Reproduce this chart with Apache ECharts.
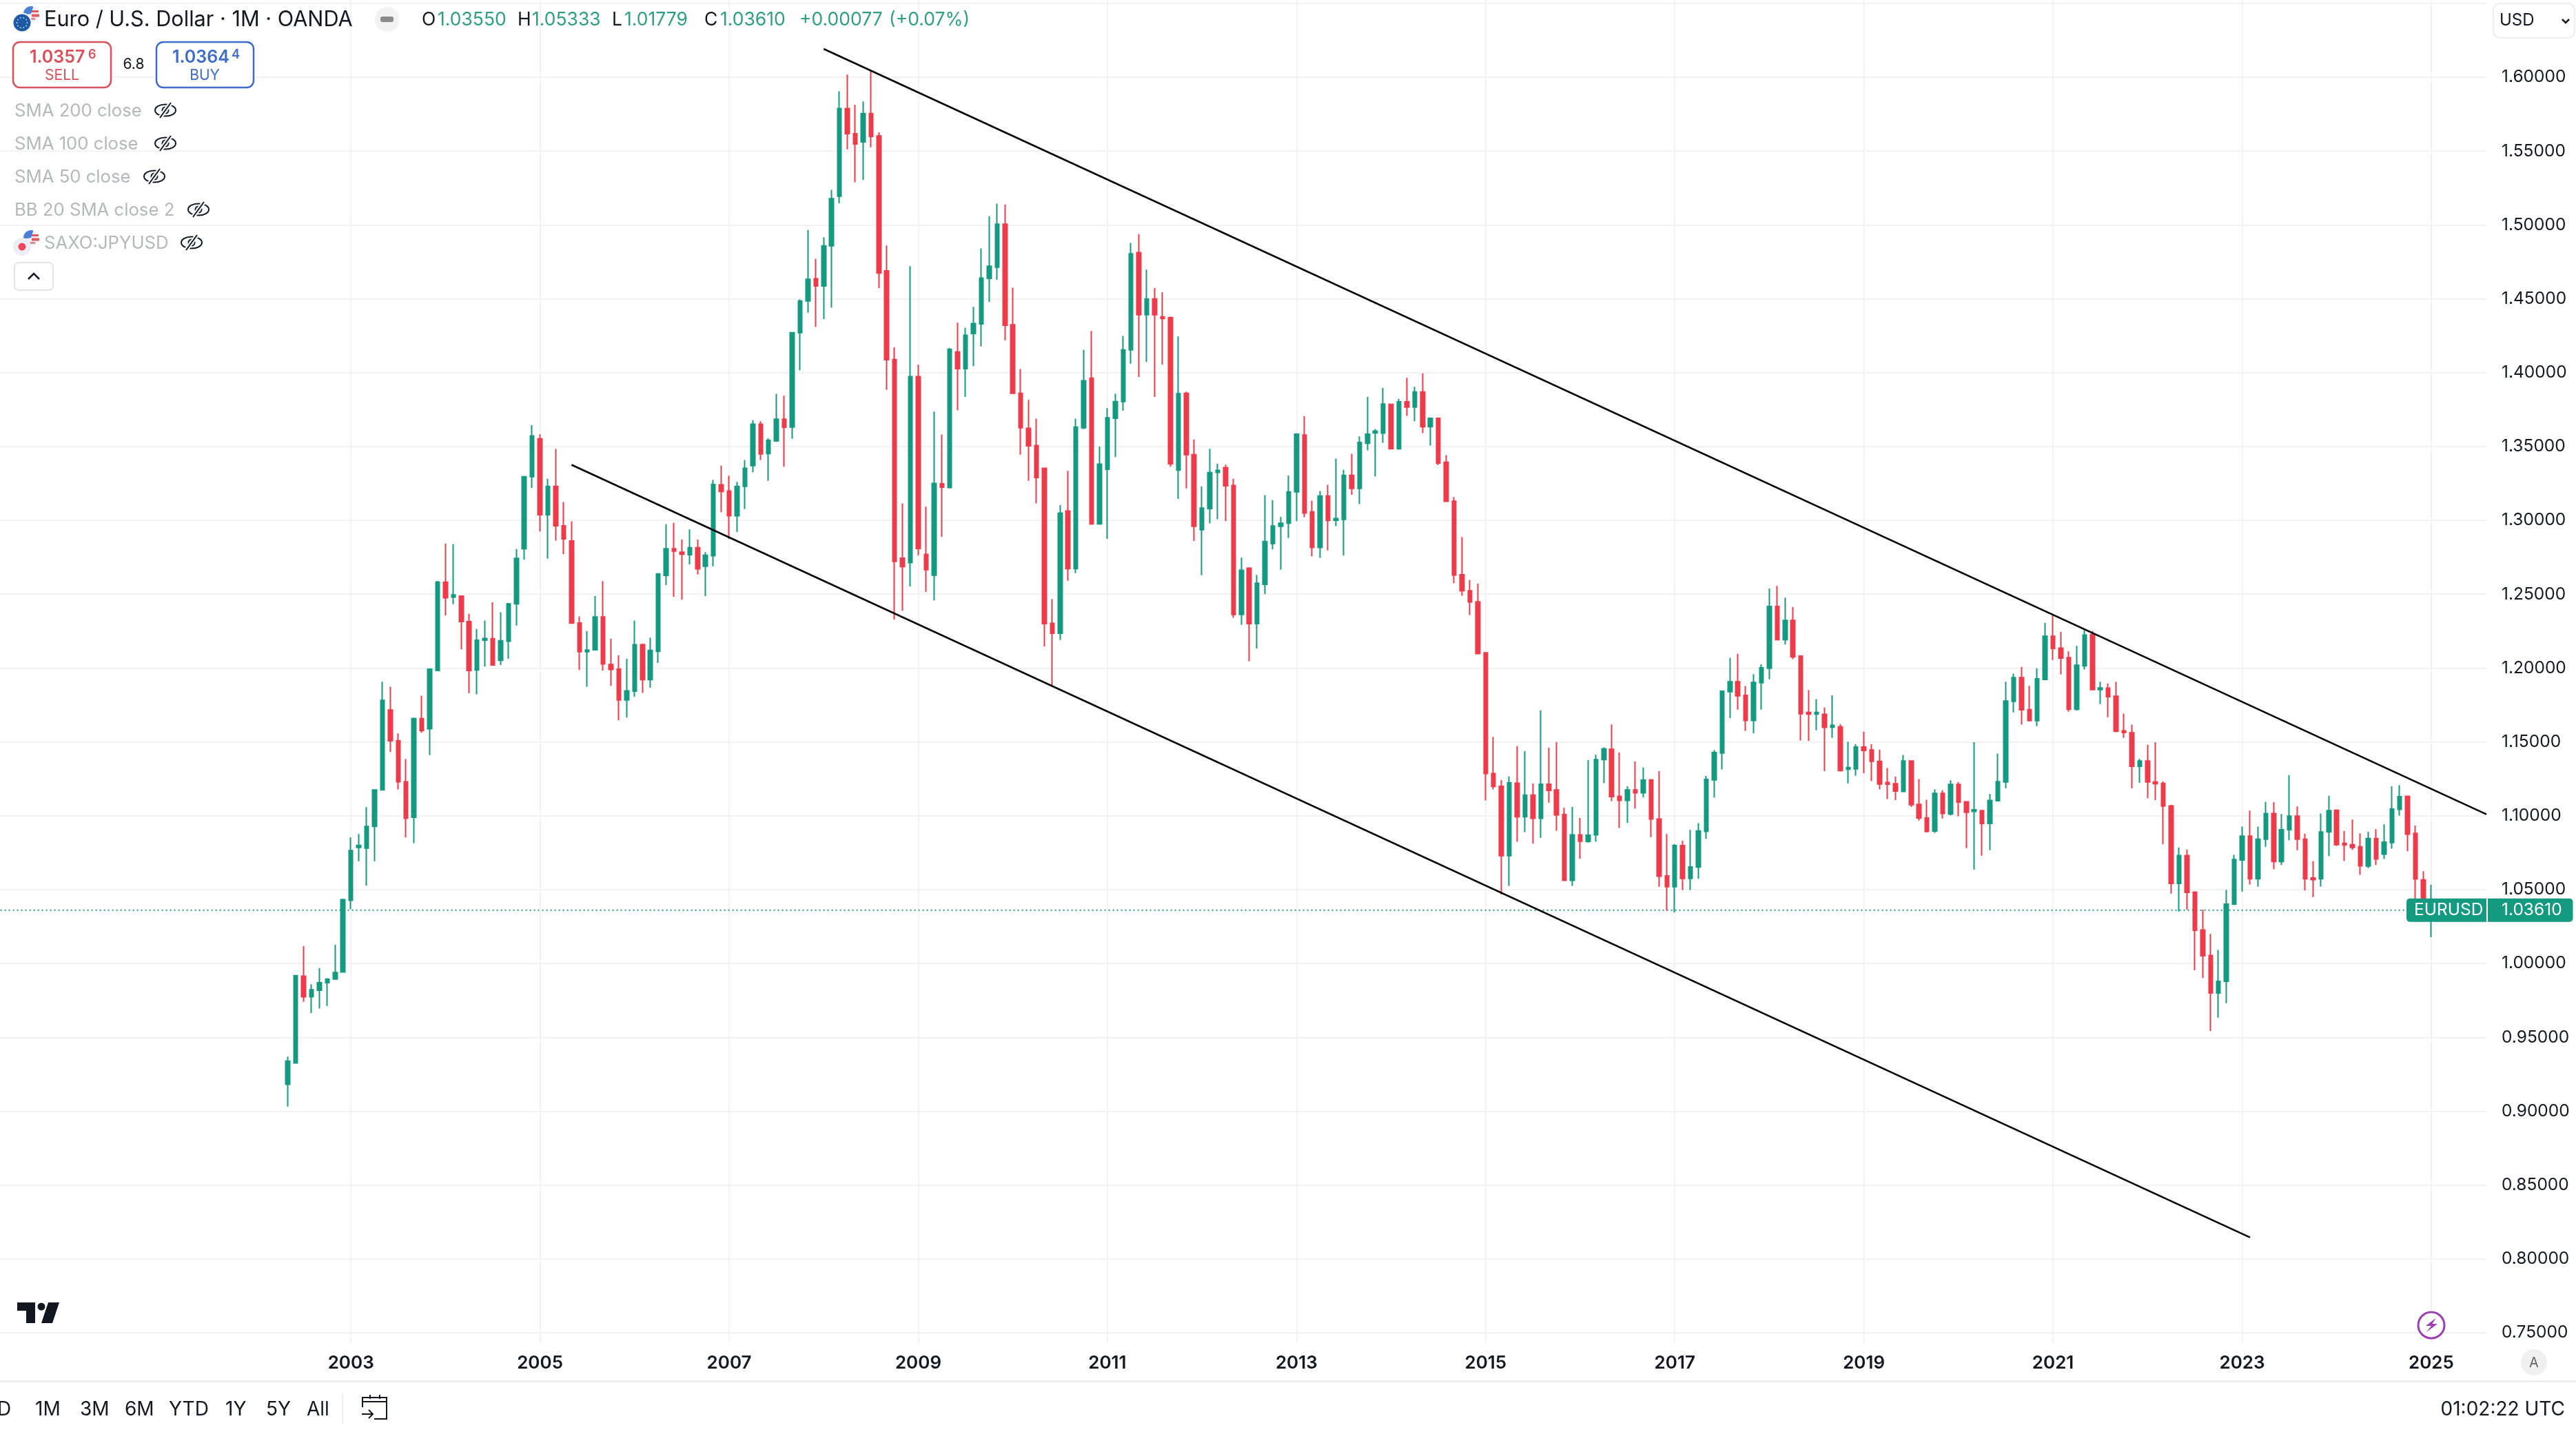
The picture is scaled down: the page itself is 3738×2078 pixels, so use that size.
<!DOCTYPE html>
<html>
<head>
<meta charset="utf-8">
<title>EURUSD 1M</title>
<script src="https://cdn.jsdelivr.net/npm/echarts@6/dist/echarts.min.js"></script>
<style>
  html, body { margin: 0; padding: 0; background: #fff; }
  #main { width: 3738px; height: 2078px; }
</style>
</head>
<body>
<div id="main"></div>
<script>
// monthly candles, each row: open, close, low, high
var candles2002 = [
  [0.9182,0.9339,0.9031,0.9370],[0.9326,0.9918,0.9326,0.9918],[0.9914,0.9774,0.9740,1.0117],[0.9774,0.9822,0.9665,0.9860],
  [0.9819,0.9870,0.9695,0.9969],[0.9870,0.9894,0.9712,0.9900],[0.9894,0.9939,0.9890,1.0127],[0.9942,1.0432,0.9942,1.0439]
];
var candles2003 = [
  [1.0428,1.0764,1.0367,1.0853],[1.0785,1.0800,1.0692,1.0877],[1.0781,1.0928,1.0528,1.1058],[1.0928,1.1175,1.0692,1.1180],
  [1.1175,1.1781,1.1175,1.1908],[1.1716,1.1507,1.1432,1.1874],[1.1507,1.1230,1.1178,1.1558],[1.1230,1.0983,1.0853,1.1384],
  [1.0990,1.1658,1.0815,1.1665],[1.1658,1.1576,1.1562,1.1812],[1.1589,1.1993,1.1411,1.1993],[1.1983,1.2582,1.1983,1.2590]
];
var candles2004 = [
  [1.2582,1.2476,1.2356,1.2843],[1.2480,1.2495,1.2432,1.2839],[1.2487,1.2315,1.2127,1.2490],[1.2315,1.1983,1.1829,1.2367],
  [1.1987,1.2189,1.1822,1.2264],[1.2189,1.2200,1.2010,1.2322],[1.2199,1.2021,1.2015,1.2445],[1.2052,1.2185,1.2021,1.2377],
  [1.2182,1.2435,1.2062,1.2440],[1.2435,1.2743,1.2288,1.2805],[1.2808,1.3295,1.2733,1.3300],[1.3295,1.3572,1.3219,1.3644]
];
var candles2005 = [
  [1.3552,1.3038,1.2925,1.3582],[1.3038,1.3230,1.2740,1.3281],[1.3230,1.2963,1.2863,1.3483],[1.2963,1.2874,1.2771,1.3124],
  [1.2860,1.2305,1.2298,1.2993],[1.2305,1.2110,1.1987,1.2350],[1.2110,1.2122,1.1874,1.2250],[1.2123,1.2346,1.2118,1.2487],
  [1.2346,1.2028,1.1983,1.2589],[1.2024,1.1990,1.1880,1.2199],[1.1993,1.1784,1.1647,1.2086],[1.1784,1.1846,1.1665,1.2062]
];
var candles2006 = [
  [1.1843,1.2158,1.1805,1.2322],[1.2158,1.1921,1.1832,1.2165],[1.1921,1.2120,1.1867,1.2206],[1.2113,1.2637,1.2034,1.2640],
  [1.2627,1.2808,1.2562,1.2973],[1.2808,1.2791,1.2483,1.2983],[1.2784,1.2771,1.2463,1.2870],[1.2767,1.2815,1.2702,1.2939],
  [1.2815,1.2671,1.2634,1.2870],[1.2689,1.2764,1.2487,1.2784],[1.2760,1.3243,1.2689,1.3274],[1.3240,1.3195,1.3055,1.3370]
];
var candles2007 = [
  [1.3199,1.3031,1.2874,1.3302],[1.3031,1.3230,1.2921,1.3260],[1.3230,1.3353,1.3076,1.3408],[1.3370,1.3651,1.3326,1.3678],
  [1.3651,1.3449,1.3408,1.3671],[1.3452,1.3541,1.3267,1.3555],[1.3538,1.3685,1.3531,1.3856],[1.3685,1.3630,1.3363,1.3843],
  [1.3631,1.4270,1.3552,1.4275],[1.4270,1.4485,1.4016,1.4496],[1.4485,1.4632,1.4406,1.4966],[1.4635,1.4587,1.4310,1.4771]
];
var candles2008 = [
  [1.4587,1.4858,1.4363,1.4917],[1.4858,1.5178,1.4440,1.5237],[1.5194,1.5788,1.5146,1.5904],[1.5788,1.5618,1.5511,1.6017],
  [1.5618,1.5548,1.5288,1.5813],[1.5562,1.5754,1.5305,1.5836],[1.5754,1.5599,1.5525,1.6045],[1.5602,1.4674,1.4573,1.5627],
  [1.4689,1.4087,1.3883,1.4861],[1.4089,1.2721,1.2328,1.4171],[1.2744,1.2687,1.2388,1.3114],[1.2713,1.3973,1.2552,1.4720]
];
var candles2009 = [
  [1.3973,1.2809,1.2764,1.4053],[1.2769,1.2665,1.2515,1.3092],[1.2628,1.3250,1.2458,1.3736],[1.3247,1.3224,1.2888,1.3581],
  [1.3222,1.4157,1.3216,1.4168],[1.4140,1.4027,1.3745,1.4338],[1.4027,1.4253,1.3835,1.4304],[1.4265,1.4332,1.4044,1.4445],
  [1.4330,1.4640,1.4177,1.4841],[1.4638,1.4720,1.4479,1.5059],[1.4714,1.5005,1.4629,1.5144],[1.5005,1.4321,1.4219,1.5138]
];
var candles2010 = [
  [1.4324,1.3860,1.3855,1.4575],[1.3860,1.3626,1.3445,1.4024],[1.3623,1.3504,1.3267,1.3815],[1.3507,1.3289,1.3114,1.3688],
  [1.3352,1.2300,1.2147,1.3357],[1.2303,1.2235,1.1873,1.2467],[1.2235,1.3049,1.2190,1.3103],[1.3063,1.2673,1.2591,1.3335],
  [1.2673,1.3631,1.2642,1.3688],[1.3626,1.3945,1.3617,1.4154],[1.3962,1.2976,1.2970,1.4282],[1.2976,1.3380,1.2970,1.3499]
];
var candles2011 = [
  [1.3346,1.3694,1.2874,1.3759],[1.3691,1.3804,1.3428,1.3858],[1.3804,1.4154,1.3742,1.4248],[1.4154,1.4804,1.4061,1.4878],
  [1.4813,1.4392,1.3971,1.4937],[1.4392,1.4499,1.4072,1.4697],[1.4499,1.4392,1.3835,1.4573],[1.4378,1.4366,1.4055,1.4544],
  [1.4372,1.3383,1.3363,1.4380],[1.3340,1.3858,1.3145,1.4245],[1.3860,1.3445,1.3216,1.3872],[1.3445,1.2959,1.2860,1.3547]
];
var candles2012 = [
  [1.2936,1.3083,1.2628,1.3230],[1.3080,1.3323,1.2979,1.3484],[1.3325,1.3338,1.3007,1.3383],[1.3357,1.3233,1.2995,1.3377],
  [1.3236,1.2362,1.2340,1.3281],[1.2362,1.2662,1.2292,1.2747],[1.2676,1.2300,1.2046,1.2682],[1.2300,1.2574,1.2133,1.2631],
  [1.2566,1.2857,1.2501,1.3171],[1.2843,1.2962,1.2803,1.3137],[1.2959,1.2981,1.2665,1.3024],[1.2981,1.3193,1.2880,1.3304]
];
var candles2013 = [
  [1.3193,1.3583,1.2995,1.3589],[1.3578,1.3049,1.3021,1.3705],[1.3057,1.2816,1.2756,1.3133],[1.2816,1.3165,1.2746,1.3198],
  [1.3165,1.2999,1.2796,1.3241],[1.3000,1.3012,1.2961,1.3418],[1.3006,1.3305,1.2761,1.3342],[1.3305,1.3216,1.3173,1.3451],
  [1.3216,1.3527,1.3110,1.3568],[1.3522,1.3583,1.3474,1.3836],[1.3592,1.3604,1.3297,1.3618],[1.3590,1.3788,1.3525,1.3896]
];
var candles2014 = [
  [1.3785,1.3484,1.3480,1.3790],[1.3484,1.3803,1.3479,1.3823],[1.3803,1.3767,1.3707,1.3965],[1.3767,1.3869,1.3671,1.3904],
  [1.3869,1.3633,1.3590,1.3995],[1.3633,1.3691,1.3507,1.3696],[1.3691,1.3388,1.3373,1.3696],[1.3393,1.3128,1.3125,1.3441],
  [1.3130,1.2629,1.2574,1.3158],[1.2632,1.2523,1.2490,1.2887],[1.2523,1.2447,1.2359,1.2596],[1.2449,1.2098,1.2095,1.2571]
];
var candles2015 = [
  [1.2103,1.1286,1.1104,1.2105],[1.1286,1.1198,1.1178,1.1534],[1.1200,1.0730,1.0467,1.1241],[1.0730,1.1223,1.0525,1.1266],
  [1.1220,1.0993,1.0824,1.1471],[1.0993,1.1140,1.0889,1.1438],[1.1140,1.0983,1.0811,1.1218],[1.0983,1.1213,1.0851,1.1714],
  [1.1213,1.1172,1.1089,1.1461],[1.1175,1.1006,1.0899,1.1499],[1.1008,1.0563,1.0560,1.1054],[1.0563,1.0871,1.0525,1.1059]
];
var candles2016 = [
  [1.0871,1.0828,1.0710,1.0985],[1.0826,1.0868,1.0818,1.1377],[1.0871,1.1380,1.0824,1.1413],[1.1380,1.1453,1.1220,1.1463],
  [1.1450,1.1130,1.1099,1.1618],[1.1132,1.1104,1.0917,1.1428],[1.1104,1.1175,1.0952,1.1200],[1.1175,1.1155,1.1049,1.1367],
  [1.1155,1.1241,1.1124,1.1327],[1.1243,1.0978,1.0856,1.1248],[1.0978,1.0591,1.0520,1.1302],[1.0593,1.0520,1.0358,1.0877]
];
var candles2017 = [
  [1.0520,1.0798,1.0346,1.0808],[1.0798,1.0576,1.0497,1.0831],[1.0576,1.0654,1.0497,1.0904],[1.0652,1.0897,1.0573,1.0950],
  [1.0894,1.1246,1.0844,1.1269],[1.1243,1.1428,1.1122,1.1446],[1.1425,1.1843,1.1314,1.1848],[1.1840,1.1908,1.1661,1.2070],
  [1.1908,1.1812,1.1719,1.2096],[1.1815,1.1645,1.1575,1.1878],[1.1645,1.1903,1.1557,1.1959],[1.1901,1.2002,1.1719,1.2025]
];
var candles2018 = [
  [1.1999,1.2417,1.1924,1.2538],[1.2417,1.2192,1.2188,1.2556],[1.2192,1.2323,1.2159,1.2477],[1.2323,1.2075,1.2060,1.2412],
  [1.2081,1.1690,1.1510,1.2085],[1.1700,1.1688,1.1506,1.1850],[1.1688,1.1700,1.1579,1.1790],[1.1687,1.1598,1.1302,1.1733],
  [1.1600,1.1612,1.1527,1.1815],[1.1602,1.1306,1.1300,1.1619],[1.1315,1.1327,1.1219,1.1500],[1.1317,1.1465,1.1271,1.1485]
];
var candles2019 = [
  [1.1465,1.1442,1.1288,1.1569],[1.1446,1.1369,1.1235,1.1485],[1.1369,1.1215,1.1179,1.1448],[1.1225,1.1213,1.1113,1.1323],
  [1.1217,1.1167,1.1106,1.1265],[1.1165,1.1371,1.1162,1.1412],[1.1371,1.1075,1.1060,1.1375],[1.1077,1.0985,1.0967,1.1248],
  [1.0985,1.0894,1.0887,1.1108],[1.0896,1.1152,1.0883,1.1179],[1.1152,1.1015,1.0981,1.1173],[1.1012,1.1212,1.1002,1.1240]
];
var candles2020 = [
  [1.1212,1.1092,1.0996,1.1227],[1.1094,1.1023,1.0781,1.1098],[1.1029,1.1041,1.0635,1.1498],[1.1035,1.0948,1.0729,1.1040],
  [1.0948,1.1104,1.0767,1.1148],[1.1102,1.1231,1.1098,1.1421],[1.1229,1.1777,1.1185,1.1908],[1.1775,1.1935,1.1700,1.1962],
  [1.1935,1.1717,1.1617,1.2008],[1.1719,1.1644,1.1640,1.1879],[1.1644,1.1927,1.1606,1.1998],[1.1923,1.2215,1.1920,1.2306]
];
var candles2021 = [
  [1.2215,1.2133,1.2054,1.2356],[1.2135,1.2067,1.1956,1.2244],[1.2071,1.1721,1.1704,1.2113],[1.1721,1.2019,1.1713,1.2150],
  [1.2015,1.2223,1.1990,1.2267],[1.2227,1.1854,1.1850,1.2250],[1.1854,1.1866,1.1756,1.1908],[1.1864,1.1806,1.1667,1.1896],
  [1.1810,1.1573,1.1565,1.1906],[1.1575,1.1563,1.1527,1.1692],[1.1562,1.1335,1.1185,1.1617],[1.1335,1.1371,1.1223,1.1385]
];
var candles2022 = [
  [1.1371,1.1229,1.1119,1.1481],[1.1229,1.1217,1.1106,1.1498],[1.1219,1.1065,1.0808,1.1233],[1.1067,1.0542,1.0473,1.1075],
  [1.0542,1.0731,1.0352,1.0785],[1.0731,1.0481,1.0365,1.0771],[1.0483,1.0225,0.9954,1.0487],[1.0227,1.0052,0.9902,1.0365],
  [1.0054,0.9800,0.9542,1.0200],[0.9800,0.9879,0.9633,1.0092],[0.9879,1.0402,0.9731,1.0498],[1.0402,1.0704,1.0396,1.0735]
];
var candles2023 = [
  [1.0700,1.0863,1.0487,1.0927],[1.0863,1.0573,1.0535,1.1035],[1.0573,1.0842,1.0521,1.0927],[1.0842,1.1015,1.0790,1.1094],
  [1.1015,1.0690,1.0638,1.1092],[1.0690,1.0906,1.0667,1.1012],[1.0906,1.0998,1.0835,1.1275],[1.0998,1.0842,1.0767,1.1063],
  [1.0842,1.0573,1.0494,1.0879],[1.0579,1.0567,1.0450,1.0692],[1.0573,1.0890,1.0521,1.1015],[1.0890,1.1035,1.0727,1.1135]
];
var candles2024 = [
  [1.1037,1.0804,1.0796,1.1040],[1.0814,1.0802,1.0693,1.0897],[1.0804,1.0785,1.0769,1.0975],[1.0790,1.0661,1.0600,1.0881],
  [1.0659,1.0846,1.0645,1.0892],[1.0846,1.0707,1.0667,1.0909],[1.0740,1.0822,1.0707,1.0942],[1.0818,1.1046,1.0777,1.1200],
  [1.1043,1.1130,1.1001,1.1208],[1.1132,1.0875,1.0760,1.1135],[1.0881,1.0572,1.0332,1.0934],[1.0566,1.0355,1.0344,1.0625]
];
var candles2025 = [
  [1.03550,1.03610,1.01779,1.05333]
];
var firstCandleMonth = [2002, 5];

var yTicks = [0.75,0.80,0.85,0.90,0.95,1.00,1.05,1.10,1.15,1.20,1.25,1.30,1.35,1.40,1.45,1.50,1.55,1.60,1.65];
var yLabels = [0.75,0.80,0.85,0.90,0.95,1.00,1.05,1.10,1.15,1.20,1.25,1.30,1.35,1.40,1.45,1.50,1.55,1.60];
var yearTicks = ['2003','2005','2007','2009','2011','2013','2015','2017','2019','2021','2023','2025'];
var lastClose = 1.03610;

// channel lines: [month, price]
var channelUpper = [['2008-01', 1.61913], ['2025-08', 1.10095]];
var channelLower = [['2005-05', 1.33758], ['2023-02', 0.81451]];

var UP = '#149a81', DOWN = '#ee3b4a', GRID = '#f1f2f4', INK = '#131722', FONT = 'Inter';

// axis months, some empty ones left and right of the candles
var months = [];
for (var m = 0; m < 317; m++) {
  var total = 1999 * 12 + 3 + m;
  var mm = total % 12 + 1;
  months.push(Math.floor(total / 12) + '-' + (mm < 10 ? '0' + mm : mm));
}

var allCandles = [].concat(candles2002, candles2003, candles2004, candles2005, candles2006, candles2007,
  candles2008, candles2009, candles2010, candles2011, candles2012, candles2013, candles2014, candles2015,
  candles2016, candles2017, candles2018, candles2019, candles2020, candles2021, candles2022, candles2023,
  candles2024, candles2025);

var startIdx = months.indexOf(firstCandleMonth[0] + '-0' + firstCandleMonth[1]);
var candleData = allCandles.map(function (c, i) {
  return [months[startIdx + i], c[0], c[1], c[2], c[3]];
});

function isYearTick(i, v) {
  return v.slice(5) === '01' && yearTicks.indexOf(v.slice(0, 4)) >= 0;
}

var chart = echarts.init(document.getElementById('main'), null, { renderer: 'canvas' });

chart.setOption({
  animation: false,
  backgroundColor: '#fff',
  grid: { left: -5.4, top: 0, width: 3613.4, height: 1948, containLabel: false, outerBoundsMode: 'none' },
  xAxis: {
    type: 'category',
    data: months,
    boundaryGap: false,
    axisLine: { show: false },
    axisTick: { show: false },
    splitLine: { show: true, interval: isYearTick, lineStyle: { color: GRID, width: 2 } },
    axisLabel: {
      interval: isYearTick,
      formatter: function (v) { return v.slice(0, 4); },
      margin: 17,
      color: INK,
      fontFamily: FONT,
      fontSize: 26,
      fontWeight: 600
    }
  },
  yAxis: {
    type: 'value',
    position: 'right',
    min: 0.74347,
    max: 1.65225,
    axisLine: { show: false },
    axisTick: { show: false, customValues: yTicks },
    splitLine: { show: true, lineStyle: { color: GRID, width: 2 } },
    axisLabel: {
      customValues: yLabels,
      formatter: function (v) { return v.toFixed(5); },
      margin: 22,
      color: INK,
      fontFamily: FONT,
      fontSize: 24.5
    }
  },
  series: [
    {
      // dotted last price line, under the candles
      type: 'line', showSymbol: false, silent: true, z: 1,
      data: [[months[0], lastClose], [months[months.length - 1], lastClose]],
      lineStyle: { color: UP, type: [2, 4], width: 2 }
    },
    {
      type: 'candlestick',
      data: candleData,
      encode: { x: 0, y: [1, 2, 3, 4] },
      barWidth: 6,
      z: 2,
      itemStyle: { color: UP, color0: DOWN, borderColor: UP, borderColor0: DOWN, borderWidth: 2 }
    },
    {
      type: 'line', data: channelUpper, showSymbol: false, silent: true, z: 5,
      lineStyle: { color: '#000', width: 2.5 }
    },
    {
      type: 'line', data: channelLower, showSymbol: false, silent: true, z: 5,
      lineStyle: { color: '#000', width: 2.5 }
    }
  ]
});

// page furniture around the plot
function txt(x, y, text, size, color, weight, align) {
  return {
    type: 'text', x: x, y: y, z: 100,
    style: {
      text: text, fill: color,
      font: (weight || 400) + ' ' + size + 'px ' + FONT,
      textAlign: align || 'left', textVerticalAlign: 'middle'
    }
  };
}
function box(x, y, w, h, r, fill, stroke, lw) {
  return {
    type: 'rect', z: 99, shape: { x: x, y: y, width: w, height: h, r: r },
    style: { fill: fill || 'none', stroke: stroke || 'none', lineWidth: lw || 0 }
  };
}
function line(pts, color, w) {
  return { type: 'polyline', z: 100, shape: { points: pts }, style: { fill: 'none', stroke: color, lineWidth: w } };
}
function eyeOff(cx, cy) {
  return [
    { type: 'ellipse', z: 100, shape: { cx: cx, cy: cy, rx: 15, ry: 8.5 }, style: { fill: 'none', stroke: INK, lineWidth: 2 } },
    { type: 'circle', z: 100, shape: { cx: cx, cy: cy, r: 4.5 }, style: { fill: 'none', stroke: INK, lineWidth: 2 } },
    line([[cx - 8, cy + 11], [cx + 8, cy - 11]], '#fff', 6),
    line([[cx - 8, cy + 11], [cx + 8, cy - 11]], INK, 2)
  ];
}
function usFlag(cx, cy) {
  return [
    { type: 'circle', z: 99, shape: { cx: cx, cy: cy, r: 11 }, style: { fill: '#eef0f6' } },
    { type: 'sector', z: 100, shape: { cx: cx, cy: cy, r: 11, r0: 0, startAngle: Math.PI * 0.95, endAngle: Math.PI * 1.6 }, style: { fill: '#4a7fd6' } },
    box(cx + 1, cy - 5, 10, 3, 0, '#e4575f'),
    box(cx + 1, cy + 0.5, 11, 4, 0, '#e4575f'),
    box(cx - 2, cy + 6, 8, 3, 0, '#d98d8f')
  ];
}

var yLast = chart.convertToPixel({ yAxisIndex: 0 }, lastClose);
var g = [];

// symbol icon
g = g.concat(usFlag(45, 20));
g.push({ type: 'circle', z: 100, shape: { cx: 32, cy: 33, r: 14.5 }, style: { fill: '#fff' } });
g.push({ type: 'circle', z: 100, shape: { cx: 32, cy: 33, r: 12.5 }, style: { fill: '#1c5aa5' } });
for (var s = 0; s < 10; s++) {
  g.push({
    type: 'circle', z: 101,
    shape: { cx: 32 + 7.5 * Math.cos(s * Math.PI / 5), cy: 33 + 7.5 * Math.sin(s * Math.PI / 5), r: 0.9 },
    style: { fill: '#dfe8f5' }
  });
}

// title row
g.push(txt(64, 29, 'Euro / U.S. Dollar · 1M · OANDA', 30.7, INK, 400));
g.push(box(544, 10, 35, 36, 17, '#f2f2f2'));
g.push(box(552, 24, 19, 8, 3, '#8a8a8a'));
var ohlcColor = '#2f9e85';
var OHLC_SIZE = 26.5;
g.push(txt(612, 29, 'O', OHLC_SIZE, INK));
g.push(txt(635, 29, '1.03550', OHLC_SIZE, ohlcColor));
g.push(txt(751, 29, 'H', OHLC_SIZE, INK));
g.push(txt(772, 29, '1.05333', OHLC_SIZE, ohlcColor));
g.push(txt(888, 29, 'L', OHLC_SIZE, INK));
g.push(txt(906, 29, '1.01779', OHLC_SIZE, ohlcColor));
g.push(txt(1022, 29, 'C', OHLC_SIZE, INK));
g.push(txt(1045, 29, '1.03610', OHLC_SIZE, ohlcColor));
g.push(txt(1160, 29, '+0.00077', OHLC_SIZE, ohlcColor));
g.push(txt(1290, 29, '(+0.07%)', OHLC_SIZE, ohlcColor));

// sell and buy
g.push(box(19, 61, 142, 66, 10, '#fff', '#d9505c', 2.5));
g.push(txt(43, 83, '1.0357', 25, '#d9505c', 600));
g.push(txt(128, 80, '6', 18, '#d9505c', 600));
g.push(txt(90, 110, 'SELL', 21, '#d9505c', 400, 'center'));
g.push(txt(194, 94, '6.8', 21, INK, 400, 'center'));
g.push(box(227, 61, 141, 66, 10, '#fff', '#3f6cc8', 2.5));
g.push(txt(250, 83, '1.0364', 25, '#3f6cc8', 600));
g.push(txt(336, 80, '4', 18, '#3f6cc8', 600));
g.push(txt(297, 110, 'BUY', 21, '#3f6cc8', 400, 'center'));

// hidden studies
var LEG = '#b5b7bb', LEG_SIZE = 25.7;
g.push(txt(21, 161, 'SMA 200 close', LEG_SIZE, LEG));
g = g.concat(eyeOff(240, 160));
g.push(txt(21, 209, 'SMA 100 close', LEG_SIZE, LEG));
g = g.concat(eyeOff(240, 208));
g.push(txt(21, 257, 'SMA 50 close', LEG_SIZE, LEG));
g = g.concat(eyeOff(224, 256));
g.push(txt(21, 305, 'BB 20 SMA close 2', LEG_SIZE, LEG));
g = g.concat(eyeOff(288, 304));
g = g.concat(usFlag(45, 345));
g.push({ type: 'circle', z: 100, shape: { cx: 32, cy: 358, r: 13 }, style: { fill: '#eceef6' } });
g.push({ type: 'circle', z: 101, shape: { cx: 32, cy: 358, r: 5.5 }, style: { fill: '#f0485a' } });
g.push(txt(64, 353, 'SAXO:JPYUSD', LEG_SIZE, LEG));
g = g.concat(eyeOff(278, 352));
g.push(box(21, 381, 56, 40, 6, '#fff', '#e3e4e6', 2));
g.push(line([[41, 405], [49, 397], [57, 405]], INK, 2.5));

// currency box
g.push(box(3618, 5, 118, 50, 10, '#fff', '#eeeeee', 2));
g.push(txt(3627, 30, 'USD', 24, INK));
g.push(line([[3718, 28], [3723, 33], [3728, 28]], INK, 2.5));

// logo
g.push({ type: 'polygon', z: 100, shape: { points: [[25, 1890], [51, 1890], [51, 1920], [38, 1920], [38, 1902], [25, 1902]] }, style: { fill: INK } });
g.push({ type: 'circle', z: 100, shape: { cx: 60, cy: 1896, r: 5.5 }, style: { fill: INK } });
g.push({ type: 'polygon', z: 100, shape: { points: [[70, 1890], [86, 1890], [76, 1920], [60, 1920]] }, style: { fill: INK } });

// flash icon over the last gridline
g.push({ type: 'circle', z: 100, shape: { cx: 3528, cy: 1923, r: 19 }, style: { fill: '#fff', stroke: '#9b3fb3', lineWidth: 3 } });
g.push({ type: 'polygon', z: 101, shape: { points: [[3534.4, 1912.7], [3520, 1924], [3528, 1924], [3521, 1933], [3537, 1921], [3529.5, 1921]] }, style: { fill: '#9b3fb3' } });

// auto button
g.push({ type: 'circle', z: 100, shape: { cx: 3677, cy: 1977, r: 19 }, style: { fill: '#f0f0f0' } });
g.push(txt(3677, 1978, 'A', 20, '#666', 400, 'center'));

// footer
g.push(box(0, 2003, 3738, 3, 0, '#eeeeee'));
var ranges = [['5D', -21], ['1M', 51], ['3M', 116], ['6M', 181], ['YTD', 245], ['1Y', 327], ['5Y', 386], ['All', 445]];
ranges.forEach(function (r) { g.push(txt(r[1], 2046, r[0], 28, INK)); });
g.push(box(496, 2022, 2, 44, 0, '#eeeeee'));
g.push(line([[526, 2042], [526, 2028], [561, 2028], [561, 2059], [543, 2059]], INK, 2));
g.push(line([[526, 2034], [561, 2034]], INK, 2));
g.push(line([[537, 2024], [537, 2030]], INK, 2));
g.push(line([[551, 2024], [551, 2030]], INK, 2));
g.push(line([[525, 2052], [541, 2052]], INK, 2));
g.push(line([[535, 2046], [541, 2052], [535, 2058]], INK, 2));
g.push(txt(3722, 2046, '01:02:22 UTC', 28, INK, 400, 'right'));

// last price label
g.push(box(3492, yLast - 17, 241.5, 34, 5, UP));
g.push(box(3608, yLast - 17, 2, 34, 0, '#fff'));
g.push(txt(3503, yLast, 'EURUSD', 24.5, '#fff'));
g.push(txt(3630, yLast, lastClose.toFixed(5), 24.5, '#fff'));

chart.setOption({ graphic: { elements: g } });
</script>
</body>
</html>
